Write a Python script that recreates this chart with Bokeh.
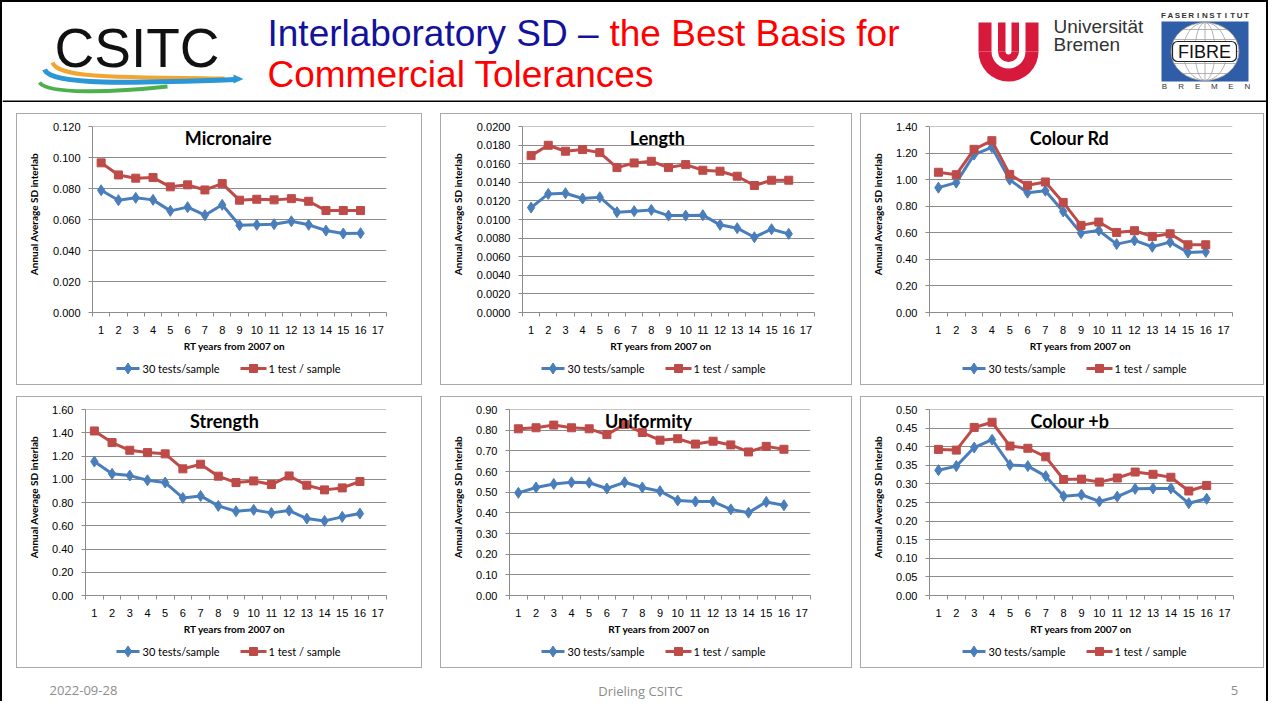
import numpy as np
from bokeh.plotting import figure
from bokeh.models import Range1d, FixedTicker, NumeralTickFormatter, Label, Spacer
from bokeh.layouts import row, column
from bokeh.embed import file_html
from bokeh.resources import INLINE
from bokeh.core.properties import value

# ---------------- data ----------------
YEARS = list(range(1, 17))
X_LABELS = list(range(1, 18))
SERIES_NAMES = ["30 tests/sample", "1 test / sample"]
X_TITLE = "RT years from 2007 on"
Y_TITLE = "Annual Average SD interlab"

MIC_30 = [0.0789, 0.0725, 0.0740, 0.0727, 0.0656, 0.0680, 0.0628, 0.0695,
          0.0563, 0.0566, 0.0570, 0.0589, 0.0566, 0.0529, 0.0510, 0.0512]
MIC_1 = [0.0966, 0.0888, 0.0867, 0.0871, 0.0811, 0.0824, 0.0791, 0.0832,
         0.0725, 0.0731, 0.0727, 0.0735, 0.0718, 0.0658, 0.0658, 0.0658]
LEN_30 = [0.01129, 0.01276, 0.01283, 0.01226, 0.01240, 0.01079, 0.01090, 0.01104,
          0.01043, 0.01043, 0.01047, 0.00943, 0.00907, 0.00810, 0.00896, 0.00846]
LEN_1 = [0.01688, 0.01799, 0.01735, 0.01753, 0.01720, 0.01559, 0.01609, 0.01627,
         0.01559, 0.01591, 0.01530, 0.01520, 0.01466, 0.01366, 0.01423, 0.01423]
RD_30 = [0.940, 0.978, 1.189, 1.244, 1.000, 0.902, 0.917, 0.761,
         0.598, 0.618, 0.515, 0.543, 0.495, 0.530, 0.452, 0.457]
RD_1 = [1.056, 1.038, 1.229, 1.294, 1.040, 0.958, 0.983, 0.829,
        0.656, 0.681, 0.603, 0.616, 0.573, 0.593, 0.510, 0.510]
STR_30 = [1.153, 1.047, 1.032, 0.992, 0.972, 0.840, 0.857, 0.771,
          0.725, 0.737, 0.711, 0.731, 0.662, 0.642, 0.677, 0.705]
STR_1 = [1.416, 1.316, 1.250, 1.230, 1.219, 1.090, 1.130, 1.027,
         0.972, 0.986, 0.955, 1.029, 0.949, 0.909, 0.926, 0.981]
UNI_30 = [0.497, 0.523, 0.540, 0.548, 0.546, 0.518, 0.548, 0.523,
          0.505, 0.460, 0.455, 0.455, 0.417, 0.401, 0.453, 0.437]
UNI_1 = [0.807, 0.812, 0.825, 0.812, 0.807, 0.779, 0.828, 0.789,
         0.752, 0.759, 0.733, 0.747, 0.729, 0.695, 0.722, 0.708]
B_30 = [0.337, 0.348, 0.398, 0.419, 0.351, 0.348, 0.321, 0.267,
        0.271, 0.253, 0.266, 0.287, 0.288, 0.288, 0.248, 0.260]
B_1 = [0.393, 0.391, 0.452, 0.466, 0.402, 0.396, 0.373, 0.312,
       0.313, 0.305, 0.316, 0.332, 0.326, 0.318, 0.281, 0.296]

BLUE = "#4a7ebb"
RED = "#be4b48"
GRID = "#8c8c8c"
FONT = "Lato"
BOX_H = 272          # outer chart box height
PLOT_H = 223         # plot part (inside the 1px box border)
LEG_H = BOX_H - 2 - PLOT_H
TOP, BOTTOM = 12, 25
YT_W = 32            # strip holding the vertical axis title


def bare(w, h):
    f = figure(width=w, height=h, x_range=Range1d(0, w), y_range=Range1d(h, 0),
               output_backend="svg", toolbar_location=None, min_border=0,
               x_axis_location=None, y_axis_location=None)
    f.grid.visible = False
    f.outline_line_color = None
    return f


def make_chart(title, s30, s1, ymax, ystep, fmt, width, left, frame_w):
    inner = width - 2
    right = inner - left - frame_w
    frame_h = PLOT_H - TOP - BOTTOM
    p = figure(width=inner - YT_W, height=PLOT_H,
               x_range=Range1d(0.5, len(X_LABELS) + 0.5),
               y_range=Range1d(0, ymax * 1.0005), output_backend="svg",
               toolbar_location=None, min_border_left=left - YT_W, min_border_right=right,
               min_border_top=TOP, min_border_bottom=BOTTOM)
    p.outline_line_color = None
    p.xgrid.visible = False
    p.ygrid.grid_line_color = GRID

    nt = int(round(ymax / ystep))
    p.yaxis.ticker = FixedTicker(ticks=[round(i * ystep, 6) for i in range(nt + 1)])
    p.yaxis.formatter = NumeralTickFormatter(format=fmt)
    minor = [c - 0.5 for c in X_LABELS] + [X_LABELS[-1] + 0.5]
    p.xaxis.ticker = FixedTicker(ticks=X_LABELS, minor_ticks=minor)
    for ax in (p.xaxis, p.yaxis):
        ax.axis_line_color = GRID
        ax.major_label_text_font_size = "11px"
        ax.major_label_text_color = "black"
    p.xaxis.major_tick_line_color = None
    p.xaxis.major_tick_out = 0
    p.xaxis.minor_tick_line_color = GRID
    p.xaxis.minor_tick_out = 4
    p.xaxis.minor_tick_in = 0
    p.xaxis.major_label_standoff = 9
    p.yaxis.major_tick_line_color = GRID
    p.yaxis.major_tick_out = 4
    p.yaxis.major_tick_in = 0
    p.yaxis.minor_tick_line_color = None
    p.yaxis.major_label_standoff = 8

    p.line(YEARS, s30, line_color=BLUE, line_width=3)
    p.scatter(YEARS, s30, marker="diamond", size=11, fill_color=BLUE, line_color=BLUE)
    p.line(YEARS, s1, line_color=RED, line_width=3)
    p.scatter(YEARS, s1, marker="square", size=8, fill_color=RED, line_color=RED)

    p.add_layout(Label(x=8.35, y=ymax * (1 - 11.5 / frame_h), text=title,
                       text_font=FONT, text_font_style="bold", text_font_size="18px",
                       text_align="center", text_baseline="middle", text_color="black"))

    # vertical axis title strip
    yt = bare(YT_W, PLOT_H)
    yt.text(x=[16], y=[TOP + frame_h / 2], text=[Y_TITLE], angle=np.pi / 2,
            text_font=value(FONT), text_font_style="bold", text_font_size="10px",
            text_align="center", text_baseline="middle", text_color="black")

    # axis title + legend strip
    lg = bare(inner, LEG_H)
    lg.text(x=[left + frame_w / 2], y=[8], text=[X_TITLE], text_font=value(FONT),
            text_font_style="bold", text_font_size="10px", text_align="center",
            text_baseline="middle", text_color="black")
    ly = 31
    lg.line([left + 34, left + 57], [ly, ly], line_color=BLUE, line_width=3)
    lg.scatter([left + 45.5], [ly], marker="diamond", size=11, fill_color=BLUE,
               line_color=BLUE)
    lg.line([left + 158, left + 184], [ly, ly], line_color=RED, line_width=3)
    lg.scatter([left + 171], [ly], marker="square", size=8, fill_color=RED, line_color=RED)
    lg.text(x=[left + 60, left + 186], y=[ly, ly], text=SERIES_NAMES, text_font=value(FONT),
            text_font_size="11px", text_baseline="middle", text_color="black")
    return column(row(yt, p), lg, styles={"border": "1px solid #a9a9a9"})


c1 = make_chart("Micronaire", MIC_30, MIC_1, 0.120, 0.020, "0.000", 406, 65, 304)
c2 = make_chart("Length", LEN_30, LEN_1, 0.0200, 0.0020, "0.0000", 412, 66, 307)
c3 = make_chart("Colour Rd", RD_30, RD_1, 1.40, 0.20, "0.00", 404, 67, 304)
c4 = make_chart("Strength", STR_30, STR_1, 1.60, 0.20, "0.00", 406, 65, 304)
c5 = make_chart("Uniformity", UNI_30, UNI_1, 0.90, 0.10, "0.00", 412, 66, 303)
c6 = make_chart("Colour +b", B_30, B_1, 0.50, 0.05, "0.00", 404, 67, 305)

# ---------------- header ----------------
HW, HH = 1264, 100
MID = 0.347  # baseline offset of a middle-anchored text, in em
hdr = bare(HW, HH)


def htext(x, base, txt, size, color, align="left", style="normal", font="Liberation Sans"):
    hdr.text(x=x, y=[b - MID * size for b in base], text=txt, text_font=value(font),
             text_font_size=f"{size}px", text_color=color, text_align=align,
             text_baseline="middle", text_font_style=style)


# CSITC logo
hdr.bezier(x0=[50], y0=[60], x1=[222], y1=[76], cx0=[55], cy0=[75], cx1=[107], cy1=[75],
           line_color="#f2a531", line_width=4)
hdr.bezier(x0=[42], y0=[67], x1=[233], y1=[77], cx0=[49], cy0=[83], cx1=[127], cy1=[81],
           line_color="#2b97d6", line_width=5)
hdr.patch(x=[231, 241, 231], y=[72, 76.5, 81], fill_color="#2b97d6", line_color=None)
hdr.bezier(x0=[37], y0=[80], x1=[165], y1=[84], cx0=[45], cy0=[92], cx1=[110], cy1=[90],
           line_color="#4cb04f", line_width=4)
htext([134.5], [65], ["CSITC"], 55, "#111111", align="center")

# title
htext([265], [44], ["Interlaboratory SD – "], 37, "#12129c")
htext([607], [44], ["the Best Basis for"], 37, "#ff0000")
htext([265], [85], ["Commercial Tolerances"], 37, "#ff0000")

# Universitaet Bremen logo
UB = "#d7193c"
ux, uy = 1006, 49
hdr.annular_wedge(x=[ux, ux], y=[uy, uy], inner_radius=[17, 3], outer_radius=[30, 10.5],
                  start_angle=np.pi, end_angle=2 * np.pi, fill_color=UB, line_color=None)
hdr.quad(left=[ux - 30, ux + 17, ux - 10.5, ux + 3], right=[ux - 17, ux + 30, ux - 3, ux + 10.5],
         top=[20] * 4, bottom=[uy] * 4, fill_color=UB, line_color=None)
htext([1051, 1051], [31, 49], ["Universität", "Bremen"], 19, "#333333")

# FIBRE logo
hdr.quad(left=[1159], right=[1246], top=[19], bottom=[79], fill_color="#2f5da8",
         line_color=None)
cx, cy, rx, ry = 1202.5, 49, 34, 29
hdr.ellipse(x=[cx], y=[cy], width=[2 * rx], height=[2 * ry], fill_color="white",
            line_color="#9a9a9a", line_width=0.8)
hdr.ellipse(x=[cx, cx], y=[cy, cy], width=[44, 20], height=[2 * ry, 2 * ry],
            fill_color=None, line_color="#a0a0a0", line_width=0.8)
hx0, hx1, hy = [], [], []
for dy in (-22, -12, 0, 12, 22):
    half = rx * np.sqrt(1 - (dy / ry) ** 2)
    hx0.append(cx - half); hx1.append(cx + half); hy.append(cy + dy)
hdr.segment(x0=hx0, y0=hy, x1=hx1, y1=hy, line_color="#a0a0a0", line_width=0.8)
hdr.segment(x0=[cx], y0=[cy - ry], x1=[cx], y1=[cy + ry], line_color="#a0a0a0",
            line_width=0.8)
hdr.quad(left=[1170], right=[1234], top=[39], bottom=[59], fill_color="white",
         line_color="#222222", line_width=1.2, border_radius=5)
hdr.text(x=[cx - 0.5], y=[49.5], text=["FIBRE"], text_font=value("Liberation Sans"),
         text_font_size="18px", text_color="#111111", text_align="center",
         text_baseline="middle")
top_word = list("FASERINSTITUT")
htext(list(np.linspace(1161, 1244, len(top_word))), [16] * len(top_word), top_word, 8,
      "#333333", align="center", style="bold")
bot_word = list("BREMEN")
htext(list(np.linspace(1162, 1245, len(bot_word))), [87] * len(bot_word), bot_word, 8,
      "#333333", align="center")

# separator under the header
hdr.segment(x0=[0], y0=[99], x1=[HW], y1=[99], line_color="black", line_width=2)

# ---------------- footer ----------------
FH = 22
ftr = bare(HW, FH)
ftr.text(x=[47], y=[11], text=["2022-09-28"], text_font=value("Open Sans"),
         text_font_size="13px", text_color="#8c8c8c", text_baseline="middle")
ftr.text(x=[638, 1232], y=[11, 11], text=["Drieling CSITC", "5"],
         text_font=value("Open Sans"), text_font_size="13px", text_color="#8c8c8c",
         text_align="center", text_baseline="middle")

row1 = row(Spacer(width=14), c1, Spacer(width=18), c2, Spacer(width=8), c3)
row2 = row(Spacer(width=14), c4, Spacer(width=18), c5, Spacer(width=8), c6)
layout = column(hdr, row1, row2, ftr, spacing=11,
                styles={"border-left": "2px solid black", "border-right": "2px solid black",
                        "border-top": "2px solid black"})

open("out.html", "w").write(file_html(layout, INLINE))
